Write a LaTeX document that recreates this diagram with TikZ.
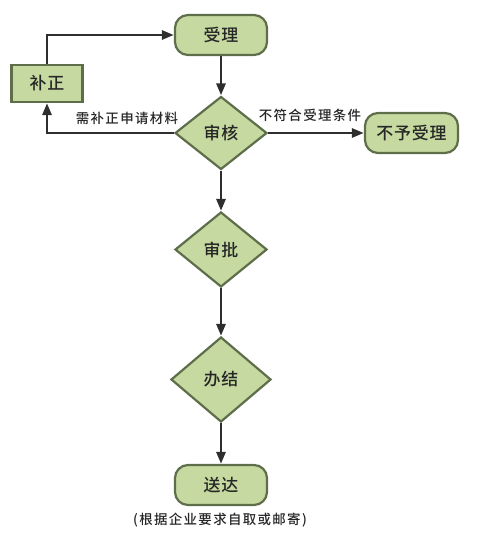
\documentclass[tikz,border=0pt]{standalone}
\usepackage{fontspec}
\setmainfont{Noto Sans CJK SC Medium}[LetterSpace=5]
\newfontfamily\lblfont{Noto Sans CJK SC Medium}[LetterSpace=10]
\usetikzlibrary{shapes.geometric,arrows.meta}
\definecolor{boxfill}{HTML}{C5D9A0}
\definecolor{boxline}{HTML}{5E6E4A}
\definecolor{arrowcol}{HTML}{2E2E2E}
\tikzset{
  x=1bp, y=-1bp,
  base/.style={draw=boxline, fill=boxfill, line width=2.2bp, font=\fontsize{17}{19}\selectfont, text=black!85, inner sep=0pt},
  term/.style={base, rounded corners=13bp, minimum width=92bp, minimum height=40bp},
  rectbox/.style={base, minimum width=71bp, minimum height=37bp},
  decide/.style={base, diamond, aspect=1.26},
  conn/.style={draw=arrowcol, line width=2.8bp, -{Triangle[length=12bp,width=9bp]}},
  lbl/.style={font=\lblfont\fontsize{13.5}{15}\selectfont, text=black!85},
}
\begin{document}
\begin{tikzpicture}
\useasboundingbox (0,0) rectangle (495,559);
\node[term] (accept) at (221,35) {受理};
\node[rectbox] (fix) at (47,83.5) {补正};
\node[decide, minimum width=92bp, minimum height=73bp] (review) at (221,133) {审核};
\node[term, minimum width=93bp] (reject) at (411.5,133) {不予受理};
\node[decide, minimum width=92bp, minimum height=75bp] (approve) at (221,249.5) {审批};
\node[decide, minimum width=100bp, minimum height=85bp] (finish) at (221,379.5) {办结};
\node[term] (deliver) at (221,485) {送达};
\node[lbl] (note) at (220,520) {(根据企业要求自取或邮寄)};
\node[lbl] (lblfix) at (127,118.5) {需补正申请材料};
\node[lbl] (lblrej) at (310,115.5) {不符合受理条件};
\draw[conn] (fix.north) |- (accept.west);
\draw[conn] (accept.south) -- (review.north);
\draw[conn] (review.west) -| (fix.south);
\draw[conn] (review.east) -- (reject.west);
\draw[conn] (review.south) -- (approve.north);
\draw[conn] (approve.south) -- (finish.north);
\draw[conn] (finish.south) -- (deliver.north);
\end{tikzpicture}
\end{document}
